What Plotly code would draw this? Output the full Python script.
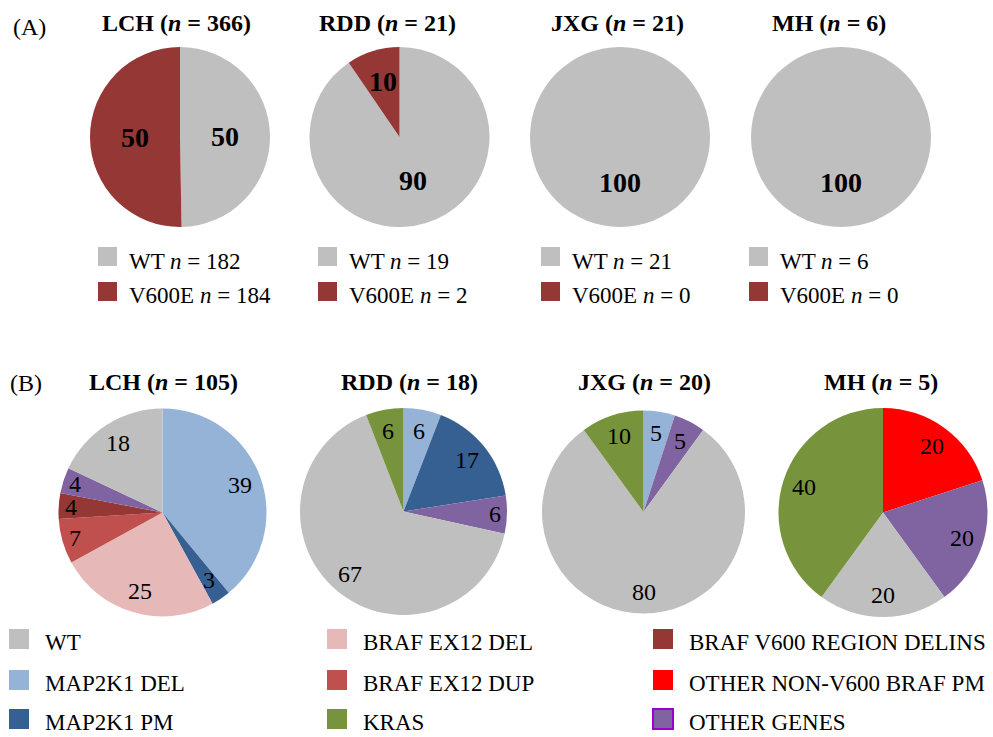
import math
import plotly.graph_objects as go

W, H = 993, 737
FONT = "Liberation Serif"

# ---------------- data ----------------
groups = ["LCH", "RDD", "JXG", "MH"]

# Panel A: BRAF V600E status (counts)
a_n = [366, 21, 21, 6]
a_labels = ["WT", "V600E"]
a_wt = [182, 19, 21, 6]
a_v600e = [184, 2, 0, 0]

# Panel B: mutation spectrum (percent shown in the slices)
b_n = [105, 18, 20, 5]
b_lch_cats = ["MAP2K1 DEL", "MAP2K1 PM", "BRAF EX12 DEL", "BRAF EX12 DUP",
              "BRAF V600 REGION DELINS", "OTHER GENES", "WT"]
b_lch_vals = [39, 3, 25, 7, 4, 4, 18]
b_rdd_cats = ["MAP2K1 DEL", "MAP2K1 PM", "OTHER GENES", "WT", "KRAS"]
b_rdd_vals = [6, 17, 6, 67, 6]
b_jxg_cats = ["MAP2K1 DEL", "OTHER GENES", "WT", "KRAS"]
b_jxg_vals = [5, 5, 80, 10]
b_mh_cats = ["OTHER NON-V600 BRAF PM", "OTHER GENES", "WT", "KRAS"]
b_mh_vals = [20, 20, 20, 40]

legend_b_order = [["WT", "MAP2K1 DEL", "MAP2K1 PM"],
                  ["BRAF EX12 DEL", "BRAF EX12 DUP", "KRAS"],
                  ["BRAF V600 REGION DELINS", "OTHER NON-V600 BRAF PM", "OTHER GENES"]]

# ---------------- style ----------------
colors = {
    "WT": "#BFBFBF",
    "V600E": "#953735",
    "MAP2K1 DEL": "#95B3D7",
    "MAP2K1 PM": "#376092",
    "BRAF EX12 DEL": "#E6B9B8",
    "BRAF EX12 DUP": "#C0504D",
    "BRAF V600 REGION DELINS": "#953735",
    "OTHER NON-V600 BRAF PM": "#FF0000",
    "KRAS": "#77933C",
    "OTHER GENES": "#8064A2",
}

# pie geometry in pixels (center x, center y, radius)
a_geom = [(180, 137, 90), (399.5, 137, 90), (620, 137, 90), (841, 137, 90)]
b_geom = [(162.5, 512.5, 104), (403.5, 511.5, 103.5), (643.5, 512, 101.5), (883, 512.5, 104.5)]
a_title_x = [176, 387, 617, 829]
b_title_x = [163, 409, 644, 881]


def px(x):
    return x / W


def py(y):
    return 1 - y / H


fig = go.Figure()
annotations = []
shapes = []


def add_pie(cats, vals, geom, fmt, bold_pct, size, frac_big, frac_small, small_thr, side_only):
    cx, cy, r = geom
    fig.add_trace(go.Pie(
        labels=cats, values=vals, sort=False, direction="clockwise", rotation=0,
        marker=dict(colors=[colors[c] for c in cats], line=dict(width=0)),
        textinfo="none", hoverinfo="label+value", showlegend=False,
        domain=dict(x=[px(cx - r), px(cx + r)], y=[py(cy + r), py(cy - r)]),
    ))
    total = float(sum(vals))
    cum = 0.0
    for c, v in zip(cats, vals):
        if v <= 0:
            continue
        share = v / total
        theta = 2 * math.pi * (cum + share / 2)
        cum += share
        small = share < small_thr and (not side_only or abs(math.sin(theta)) > 0.9)
        f = frac_small if small else frac_big
        lx = cx + f * r * math.sin(theta)
        ly = cy - f * r * math.cos(theta)
        annotations.append(dict(
            x=px(lx), y=py(ly), xref="paper", yref="paper", showarrow=False,
            text=fmt % (round(100 * share) if bold_pct else v),
            font=dict(family=FONT, size=size, color="black"),
            xanchor="center", yanchor="middle"))


# Panel A pies
for i, g in enumerate(groups):
    add_pie(a_labels, [a_wt[i], a_v600e[i]], a_geom[i], "<b>%d</b>", True, 28,
            0.5, 0.64, 0.15, False)
    annotations.append(dict(
        x=px(a_title_x[i]), y=py(23), xref="paper", yref="paper", showarrow=False,
        text="<b>%s (<i>n</i> = %d)</b>" % (g, a_n[i]),
        font=dict(family=FONT, size=24, color="black"), xanchor="center", yanchor="middle"))

# Panel B pies
b_sets = [(b_lch_cats, b_lch_vals), (b_rdd_cats, b_rdd_vals),
          (b_jxg_cats, b_jxg_vals), (b_mh_cats, b_mh_vals)]
for i, g in enumerate(groups):
    cats, vals = b_sets[i]
    add_pie(cats, vals, b_geom[i], "%d", False, 24, 0.79, 0.88, 0.08, True)
    annotations.append(dict(
        x=px(b_title_x[i]), y=py(382), xref="paper", yref="paper", showarrow=False,
        text="<b>%s (<i>n</i> = %d)</b>" % (g, b_n[i]),
        font=dict(family=FONT, size=24, color="black"), xanchor="center", yanchor="middle"))

# panel letters
for txt, x, y in [("(A)", 29, 27), ("(B)", 26, 383)]:
    annotations.append(dict(x=px(x), y=py(y), xref="paper", yref="paper", showarrow=False,
                            text=txt, font=dict(family=FONT, size=24, color="black"),
                            xanchor="center", yanchor="middle"))

# Panel A legends
a_leg_x = [98, 318, 541, 749]
a_leg_rows = [(247, "WT", a_wt), (282, "V600E", a_v600e)]
for i in range(4):
    x0 = a_leg_x[i]
    for y0, lab, arr in a_leg_rows:
        shapes.append(dict(type="rect", xref="paper", yref="paper",
                           x0=px(x0), x1=px(x0 + 19), y0=py(y0 + 19), y1=py(y0),
                           fillcolor=colors[lab], line=dict(width=0)))
        annotations.append(dict(x=px(x0 + 29), y=py(y0 + 14), xref="paper", yref="paper",
                                showarrow=False, text="%s <i>n</i> = %d" % (lab, arr[i]),
                                font=dict(family=FONT, size=23, color="black"),
                                xanchor="left", yanchor="middle"))

# Panel B legend
b_leg_x = [9, 327, 653]
b_leg_y = [629, 670, 709]
for ci, col in enumerate(legend_b_order):
    x0 = b_leg_x[ci]
    for ri, lab in enumerate(col):
        y0 = b_leg_y[ri]
        line = dict(width=2, color="#9900CC") if lab == "OTHER GENES" else dict(width=0)
        shapes.append(dict(type="rect", xref="paper", yref="paper",
                           x0=px(x0), x1=px(x0 + 20), y0=py(y0 + 20), y1=py(y0),
                           fillcolor=colors[lab], line=line))
        annotations.append(dict(x=px(x0 + 34), y=py(y0 + 13), xref="paper", yref="paper",
                                showarrow=False, text=lab,
                                font=dict(family=FONT, size=23, color="black"),
                                xanchor="left", yanchor="middle"))

fig.update_layout(
    width=W, height=H, margin=dict(l=0, r=0, t=0, b=0),
    paper_bgcolor="white", plot_bgcolor="white",
    annotations=annotations, shapes=shapes, showlegend=False,
)

fig.write_html("out.html", config={"displayModeBar": False},
               post_script="document.body.style.margin='0px';document.body.style.padding='0px';")
